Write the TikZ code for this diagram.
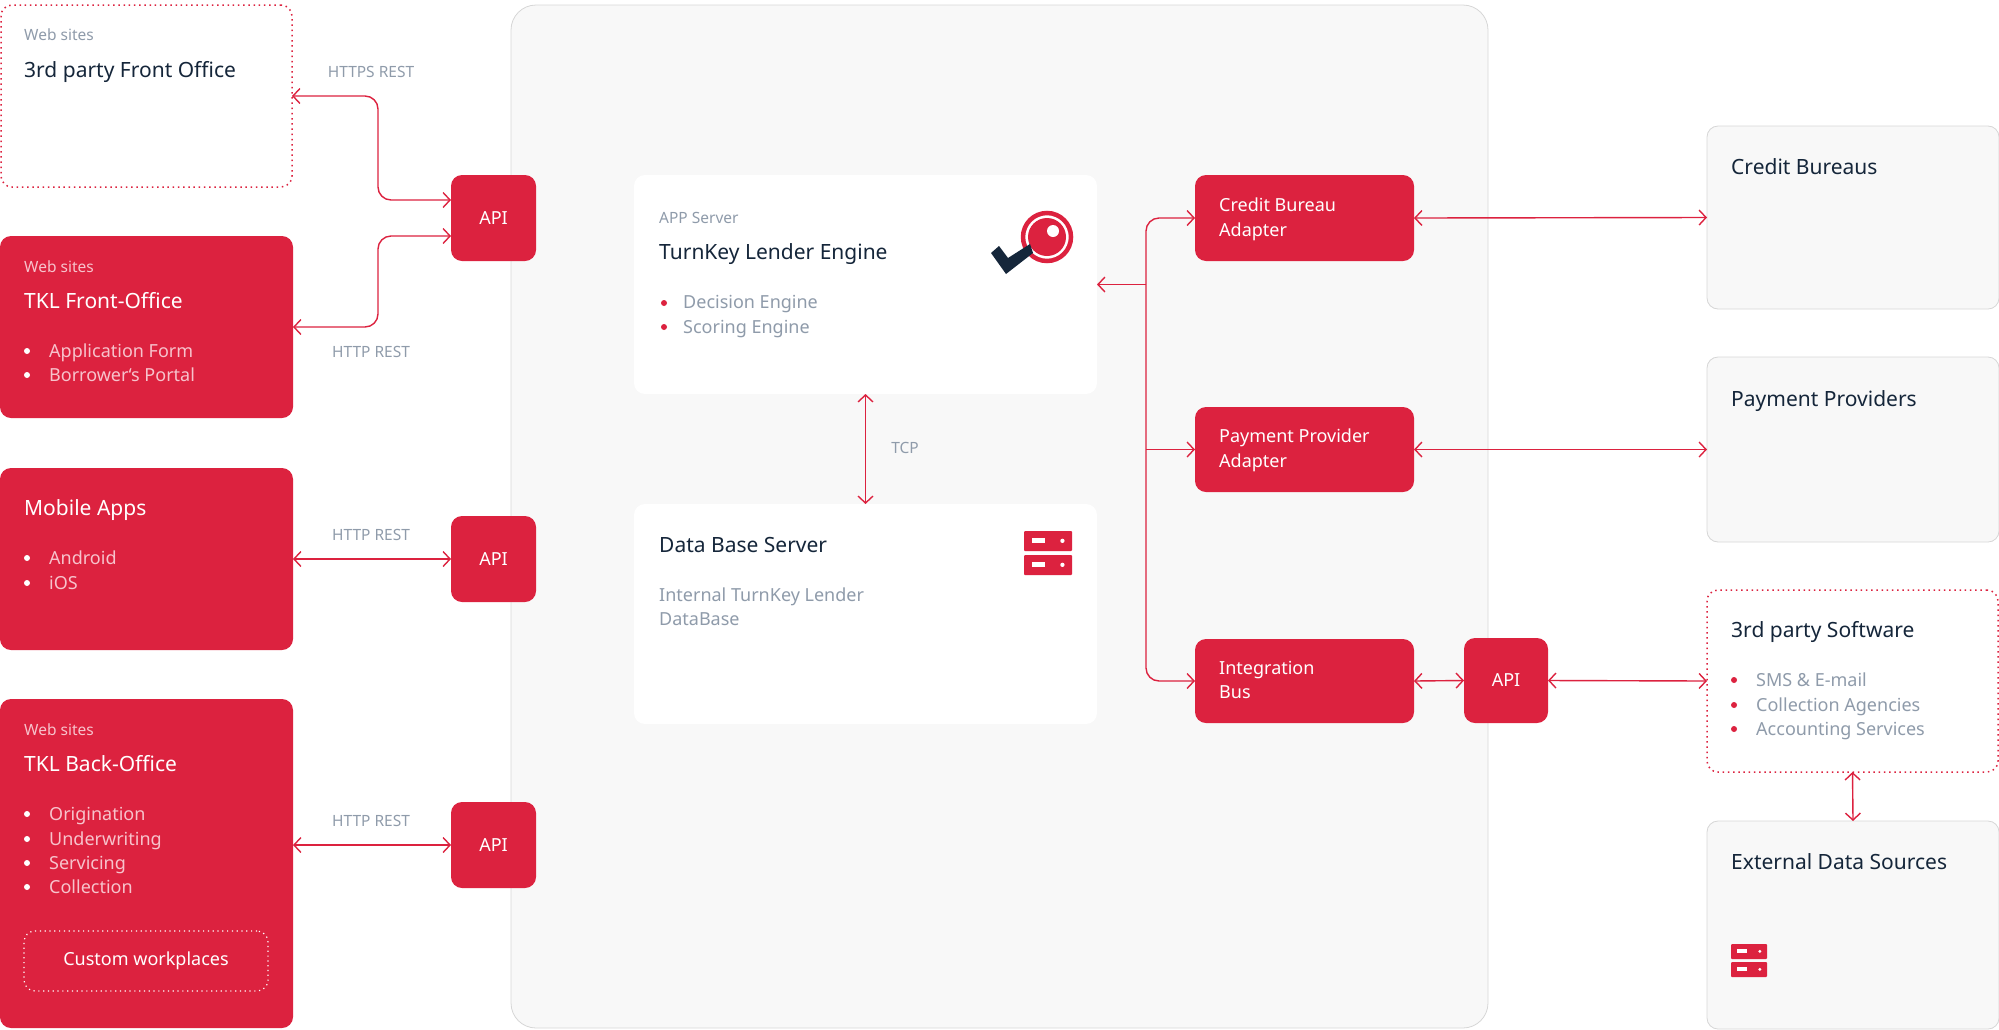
\documentclass[tikz,border=0pt]{standalone}
\usepackage{fontspec}
\setmainfont{Noto Sans}
\usetikzlibrary{arrows.meta,calc}
\definecolor{tkred}{HTML}{DC223F}
\definecolor{tkdark}{HTML}{15263A}
\definecolor{tkgray}{HTML}{8F9BAA}
\definecolor{tkpink}{HTML}{F7C3CC}
\definecolor{tkpanel}{HTML}{F8F8F8}
\definecolor{tkedge}{HTML}{D6D6D6}
\tikzset{
  x=1pt,y=-1pt,
  box/.style={inner sep=0pt,outer sep=0pt,rounded corners=11pt},
  redbox/.style={box,fill=tkred},
  dotbox/.style={box,draw=tkred,line width=1.5pt,dash pattern=on 1.5pt off 3.7pt,fill=white},
  graybox/.style={box,fill=tkpanel,draw=tkedge,line width=0.8pt},
  whitebox/.style={box,fill=white},
  conn/.style={draw=tkred,line width=1.4pt,rounded corners=13pt,{Straight Barb[length=7pt,width=15pt]}-{Straight Barb[length=7pt,width=15pt]}},
  conr/.style={draw=tkred,line width=1.4pt,-{Straight Barb[length=7pt,width=15pt]}},
  txt/.style={inner sep=0pt,anchor=west,text depth=0pt},
  title/.style={txt,font=\fontsize{21}{21}\selectfont,text height=15pt},
  body/.style={txt,font=\fontsize{18}{18}\selectfont,text height=13pt},
  small/.style={txt,font=\fontsize{15.5}{16}\selectfont,text height=11pt},
  lab/.style={inner sep=0pt,anchor=center,text=tkgray,font=\fontsize{15.5}{16}\selectfont,text height=11pt,text depth=0pt},
  apit/.style={font=\fontsize{18}{18}\selectfont,text=white},
}
\newcommand{\bx}[7][]{\node[#3,minimum width=#6-#4,minimum height=#7-#5,#1] (#2) at ({(#4+#6)/2},{(#5+#7)/2}) {};}
\newcommand{\srv}[3]{%
  \fill[tkred,rounded corners=1pt] (#1,#2) rectangle ++(#3,{#3*0.42});
  \fill[tkred,rounded corners=1pt] (#1,{#2+#3*0.5}) rectangle ++(#3,{#3*0.42});
  \fill[white] ({#1+#3*0.17},{#2+#3*0.15}) rectangle ++({#3*0.27},{#3*0.11});
  \fill[white] ({#1+#3*0.17},{#2+#3*0.65}) rectangle ++({#3*0.27},{#3*0.11});
  \fill[white] ({#1+#3*0.8},{#2+#3*0.205}) circle ({#3*0.045});
  \fill[white] ({#1+#3*0.8},{#2+#3*0.705}) circle ({#3*0.045});
}
\begin{document}
\begin{tikzpicture}
\useasboundingbox (0,0) rectangle (1999,1029);
% central panel
\bx[rounded corners=25pt,draw=tkedge,line width=0.8pt,fill=tkpanel]{panel}{box}{511}{5}{1488}{1028}
% left boxes
\bx{b1}{dotbox}{1}{5}{292}{187}
\bx{b2}{redbox}{0}{236}{293}{418}
\bx{b3}{redbox}{0}{468}{293}{650}
\bx{b4}{redbox}{0}{699}{293}{1028}
\bx[draw=white,fill=none,line width=1.2pt,dash pattern=on 1.2pt off 3.6pt]{cw}{box}{24}{931}{268}{991}
% API boxes
\bx{api1}{redbox}{451}{175}{536}{261}
\bx{api2}{redbox}{451}{516}{536}{602}
\bx{api3}{redbox}{451}{802}{536}{888}
\bx{api4}{redbox}{1464}{638}{1548}{723}
% centre
\bx{app}{whitebox}{634}{175}{1097}{394}
\bx{db}{whitebox}{634}{504}{1097}{724}
\bx{cba}{redbox}{1195}{175}{1414}{261}
\bx{ppa}{redbox}{1195}{407}{1414}{492}
\bx{ib}{redbox}{1195}{639}{1414}{723}
% right
\bx{cb}{graybox}{1707}{126}{1999}{309}
\bx{pp}{graybox}{1707}{357}{1999}{542}
\bx{soft}{dotbox}{1707}{590}{1998}{772}
\bx{ext}{graybox}{1707}{821}{1999}{1029}
% connectors
\coordinate (trunk) at (1146,300);
\draw[conn] (b1.east) -- ++(86,0) |- ($(api1.west)+(0,-18)$);
\draw[conn] (b2.east) -- ++(85,0) |- ($(api1.west)+(0,18)$);
\draw[conn] (b3.east) -- (api2.west);
\draw[conn] (api3.west -| b4.east) -- (api3.west);
\draw[conn] (app.south) -- (db.north);
\draw[conn] (cba.west) -| (trunk) |- (ib.west);
\draw[conr] (ppa.west -| trunk) -- (ppa.west);
\draw[conr] (app.east -| trunk) -- (app.east);
\draw[conn] (cba.east) -- (cb.west);
\draw[conn] (ppa.east) -- (pp.west);
\draw[conn] (ib.east) -- (api4.west);
\draw[conn] (api4.east) -- (soft.west);
\draw[conn] (soft.south) -- (ext.north);
% connector labels
\node[lab] (l1) at (371,72) {HTTPS REST};
\node[lab] (l2) at (371,352) {HTTP REST};
\node[lab] (l3) at (371,535) {HTTP REST};
\node[lab] (l4) at (371,821) {HTTP REST};
\node[lab] (l5) at (905,448) {TCP};
\node[apit] (a1) at (api1) {API};
\node[apit] (a2) at (api2) {API};
\node[apit] (a3) at (api3) {API};
\node[apit] (a4) at (api4) {API};
% box 1
\node[small,text=tkgray] (t1a) at (24,35) {Web sites};
\node[title,text=tkdark] (t1b) at (24,70) {3rd party Front Office};
% box 2
\node[small,text=tkpink] (t2a) at (24,267) {Web sites};
\node[title,text=white] (t2b) at (24,301) {TKL Front-Office};
\fill[white] (27,351) circle (3); \fill[white] (27,375) circle (3);
\node[body,text=tkpink] (t2c) at (49,351) {Application Form};
\node[body,text=tkpink] (t2d) at (49,375) {Borrower`s Portal};
% box 3
\node[title,text=white] (t3a) at (24,508) {Mobile Apps};
\fill[white] (27,558) circle (3); \fill[white] (27,583) circle (3);
\node[body,text=tkpink] (t3b) at (49,558) {Android};
\node[body,text=tkpink] (t3c) at (49,583) {iOS};
% box 4
\node[small,text=tkpink] (t4a) at (24,730) {Web sites};
\node[title,text=white] (t4b) at (24,764) {TKL Back-Office};
\fill[white] (27,814) circle (3); \fill[white] (27,839) circle (3); \fill[white] (27,863) circle (3); \fill[white] (27,887) circle (3);
\node[body,text=tkpink] (t4c) at (49,814) {Origination};
\node[body,text=tkpink] (t4d) at (49,839) {Underwriting};
\node[body,text=tkpink] (t4e) at (49,863) {Servicing};
\node[body,text=tkpink] (t4f) at (49,887) {Collection};
\node[apit] (t4g) at (cw) {Custom workplaces};
% app server
\node[small,text=tkgray] (t5a) at (659,218) {APP Server};
\node[title,text=tkdark] (t5b) at (659,252) {TurnKey Lender Engine};
\fill[tkred] (664,303) circle (3); \fill[tkred] (664,327) circle (3);
\node[body,text=tkgray] (t5c) at (683,302) {Decision Engine};
\node[body,text=tkgray] (t5d) at (683,327) {Scoring Engine};
% logo
\draw[tkred,line width=4.5pt] (1047,237) circle (24);
\fill[tkred] (1047,237) circle (19);
\fill[tkdark] (991,253) -- (999,246) -- (1008,258) -- (1030,244) -- (1033,253) -- (1006,274) -- cycle;
\fill[white] (1053,231) circle (6);
% db
\node[title,text=tkdark] (t6a) at (659,545) {Data Base Server};
\node[body,text=tkgray] (t6b) at (659,595) {Internal TurnKey Lender};
\node[body,text=tkgray] (t6c) at (659,619) {DataBase};
\srv{1024}{531}{48}
% adapters
\node[body,text=white] (t7a) at (1219,205) {Credit Bureau};
\node[body,text=white] (t7b) at (1219,230) {Adapter};
\node[body,text=white] (t8a) at (1219,436) {Payment Provider};
\node[body,text=white] (t8b) at (1219,461) {Adapter};
\node[body,text=white] (t9a) at (1219,668) {Integration};
\node[body,text=white] (t9b) at (1219,692) {Bus};
% right
\node[title,text=tkdark] (r1) at (1731,167) {Credit Bureaus};
\node[title,text=tkdark] (r2) at (1731,399) {Payment Providers};
\node[title,text=tkdark] (r3) at (1731,630) {3rd party Software};
\fill[tkred] (1734,680) circle (3); \fill[tkred] (1734,705) circle (3); \fill[tkred] (1734,729) circle (3);
\node[body,text=tkgray] (r3a) at (1756,680) {SMS \& E-mail};
\node[body,text=tkgray] (r3b) at (1756,705) {Collection Agencies};
\node[body,text=tkgray] (r3c) at (1756,729) {Accounting Services};
\node[title,text=tkdark] (r4) at (1731,862) {External Data Sources};
\srv{1731}{944}{36}
\end{tikzpicture}
\end{document}
